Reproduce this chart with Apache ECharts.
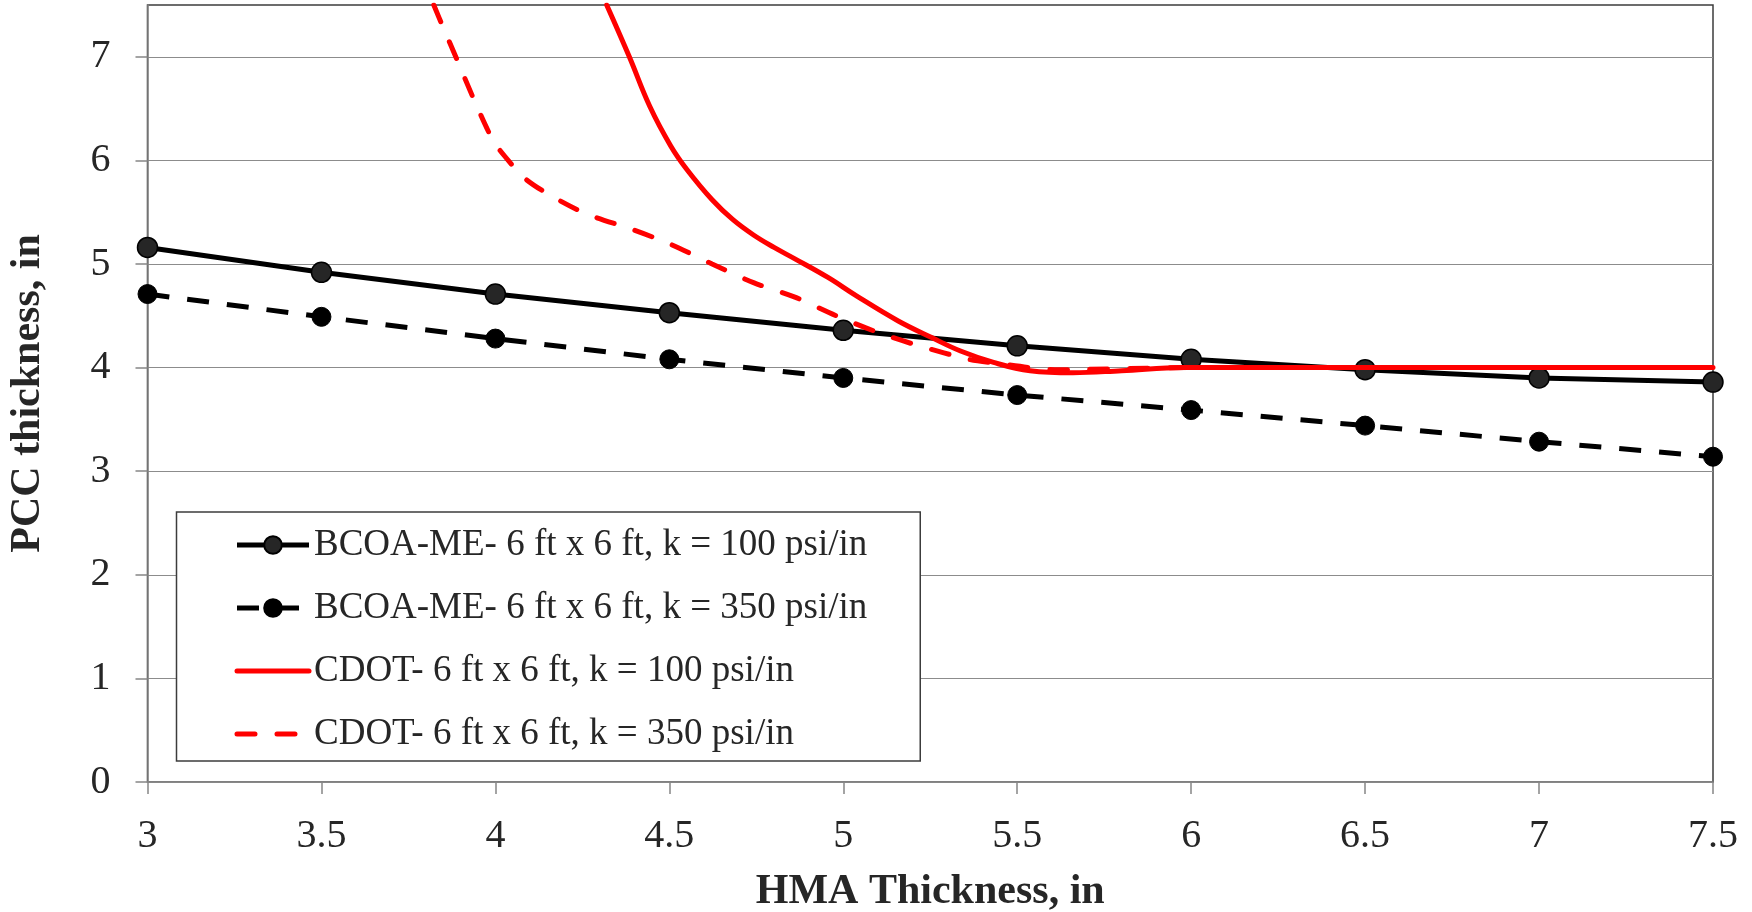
<!DOCTYPE html>
<html>
<head>
<meta charset="utf-8">
<title>PCC thickness vs HMA thickness</title>
<script src="https://cdn.jsdelivr.net/npm/echarts@6/dist/echarts.min.js"></script>
<style>
  html, body { margin: 0; padding: 0; background: #ffffff; }
  #chart { width: 1752px; height: 912px; }
</style>
</head>
<body>
<div id="chart"></div>
<script>
// HMA thickness (in) for the BCOA-ME design points
const hmaThickness = [3, 3.5, 4, 4.5, 5, 5.5, 6, 6.5, 7, 7.5];

// BCOA-ME PCC thickness (in)
const bcoaK100 = [5.16, 4.92, 4.71, 4.53, 4.36, 4.21, 4.08, 3.98, 3.90, 3.86];
const bcoaK350 = [4.71, 4.49, 4.28, 4.08, 3.90, 3.735, 3.59, 3.44, 3.285, 3.14];

// CDOT curves as [HMA thickness, PCC thickness]
const cdotK100 = [
  [4.32, 7.5], [4.385, 7.0], [4.444, 6.52], [4.504, 6.14], [4.551, 5.91],
  [4.623, 5.62], [4.682, 5.43], [4.742, 5.28], [4.801, 5.16], [4.861, 5.05],
  [4.956, 4.87], [5.039, 4.69], [5.158, 4.45], [5.254, 4.29], [5.337, 4.16],
  [5.432, 4.05], [5.537, 3.97], [5.66, 3.95], [5.8, 3.97], [5.98, 4.0],
  [6.5, 4.0], [7.0, 4.0], [7.5, 4.0]
];
const cdotK350 = [
  [3.823, 7.5], [3.849, 7.29], [3.89, 6.97], [3.938, 6.59], [3.992, 6.2],
  [4.027, 6.04], [4.087, 5.82], [4.17, 5.64], [4.265, 5.48], [4.396, 5.33],
  [4.504, 5.19], [4.623, 5.0], [4.742, 4.82], [4.861, 4.68], [4.98, 4.5],
  [5.099, 4.34], [5.218, 4.21], [5.361, 4.08], [5.42, 4.05], [5.62, 3.98],
  [6.0, 4.0], [6.5, 4.0], [7.0, 4.0], [7.5, 4.0]
];

const seriesNames = [
  'BCOA-ME- 6 ft x 6 ft, k = 100 psi/in',
  'BCOA-ME- 6 ft x 6 ft, k = 350 psi/in',
  'CDOT- 6 ft x 6 ft, k = 100 psi/in',
  'CDOT- 6 ft x 6 ft, k = 350 psi/in'
];

const yTicks = [0, 1, 2, 3, 4, 5, 6, 7];

const FONT = "'Liberation Serif', 'Times New Roman', serif";
const TEXT = '#262626';
const AXIS_GRAY = '#868686';
const LINE_W = 5;

const pair = (xs, ys) => xs.map((x, i) => [x, ys[i]]);

const chart = echarts.init(document.getElementById('chart'), null, { renderer: 'canvas' });

chart.setOption({
  backgroundColor: '#ffffff',
  animation: false,
  grid: {
    left: 147.5, right: 39, top: 5, bottom: 130,
    outerBoundsMode: 'none', containLabel: false,
    show: true, borderColor: '#3c3c3c', borderWidth: 1.5, backgroundColor: '#ffffff'
  },
  legend: {
    orient: 'vertical',
    left: 176.5, top: 512,
    padding: [13, 53, 7, 58],
    itemWidth: 72, itemHeight: 22, itemGap: 23,
    backgroundColor: '#ffffff',
    borderColor: '#3c3c3c', borderWidth: 1.5,
    lineStyle: { width: LINE_W },
    textStyle: { fontFamily: FONT, fontSize: 37, color: TEXT, lineHeight: 40 },
    data: [
      { name: seriesNames[0] },
      { name: seriesNames[1] },
      // the CDOT curves have no point markers, so their keys are plain lines
      { name: seriesNames[2], itemStyle: { opacity: 0 } },
      { name: seriesNames[3], itemStyle: { opacity: 0 } }
    ]
  },
  xAxis: {
    type: 'value',
    min: 3, max: 7.5, interval: 0.5,
    name: 'HMA Thickness, in',
    nameLocation: 'middle', nameGap: 89,
    nameTextStyle: { fontFamily: FONT, fontSize: 42, fontWeight: 'bold', color: TEXT },
    axisLine: { lineStyle: { color: AXIS_GRAY, width: 1.5 } },
    axisTick: { show: true, inside: false, length: 12, lineStyle: { color: AXIS_GRAY, width: 1.5 } },
    axisLabel: { fontFamily: FONT, fontSize: 40, color: TEXT, margin: 34 },
    splitLine: { show: false }
  },
  yAxis: {
    type: 'value',
    min: 0, max: 7.5, interval: 1,
    name: 'PCC thickness, in',
    nameLocation: 'middle', nameGap: 98, nameRotate: 90,
    nameTextStyle: { fontFamily: FONT, fontSize: 42, fontWeight: 'bold', color: TEXT },
    axisLine: { show: true, lineStyle: { color: AXIS_GRAY, width: 1.5 } },
    axisTick: { show: true, inside: false, length: 12, customValues: yTicks, lineStyle: { color: AXIS_GRAY, width: 1.5 } },
    axisLabel: { fontFamily: FONT, fontSize: 40, color: TEXT, margin: 37, padding: [7, 0, 0, 0], customValues: yTicks },
    splitLine: { show: true, lineStyle: { color: '#8c8c8c', width: 1.2 } }
  },
  series: [
    {
      name: seriesNames[0], type: 'line',
      data: pair(hmaThickness, bcoaK100),
      symbol: 'circle', symbolSize: 20, showAllSymbol: true,
      lineStyle: { color: '#000000', width: LINE_W },
      itemStyle: { color: '#262626', borderColor: '#000000', borderWidth: 1.5 },
      z: 3
    },
    {
      name: seriesNames[1], type: 'line',
      data: pair(hmaThickness, bcoaK350),
      symbol: 'circle', symbolSize: 19, showAllSymbol: true,
      lineStyle: { color: '#000000', width: LINE_W, type: [22, 18] },
      itemStyle: { color: '#000000', borderColor: '#000000', borderWidth: 1 },
      z: 3
    },
    {
      name: seriesNames[2], type: 'line',
      data: cdotK100,
      symbol: 'none', smooth: 0.4,
      lineStyle: { color: '#ff0000', width: LINE_W, cap: 'round' },
      itemStyle: { color: '#ff0000' },
      z: 4
    },
    {
      name: seriesNames[3], type: 'line',
      data: cdotK350,
      symbol: 'none', smooth: 0.3,
      lineStyle: { color: '#ff0000', width: LINE_W, type: [18, 22], cap: 'round' },
      itemStyle: { color: '#ff0000' },
      z: 4
    }
  ]
});
</script>
</body>
</html>
